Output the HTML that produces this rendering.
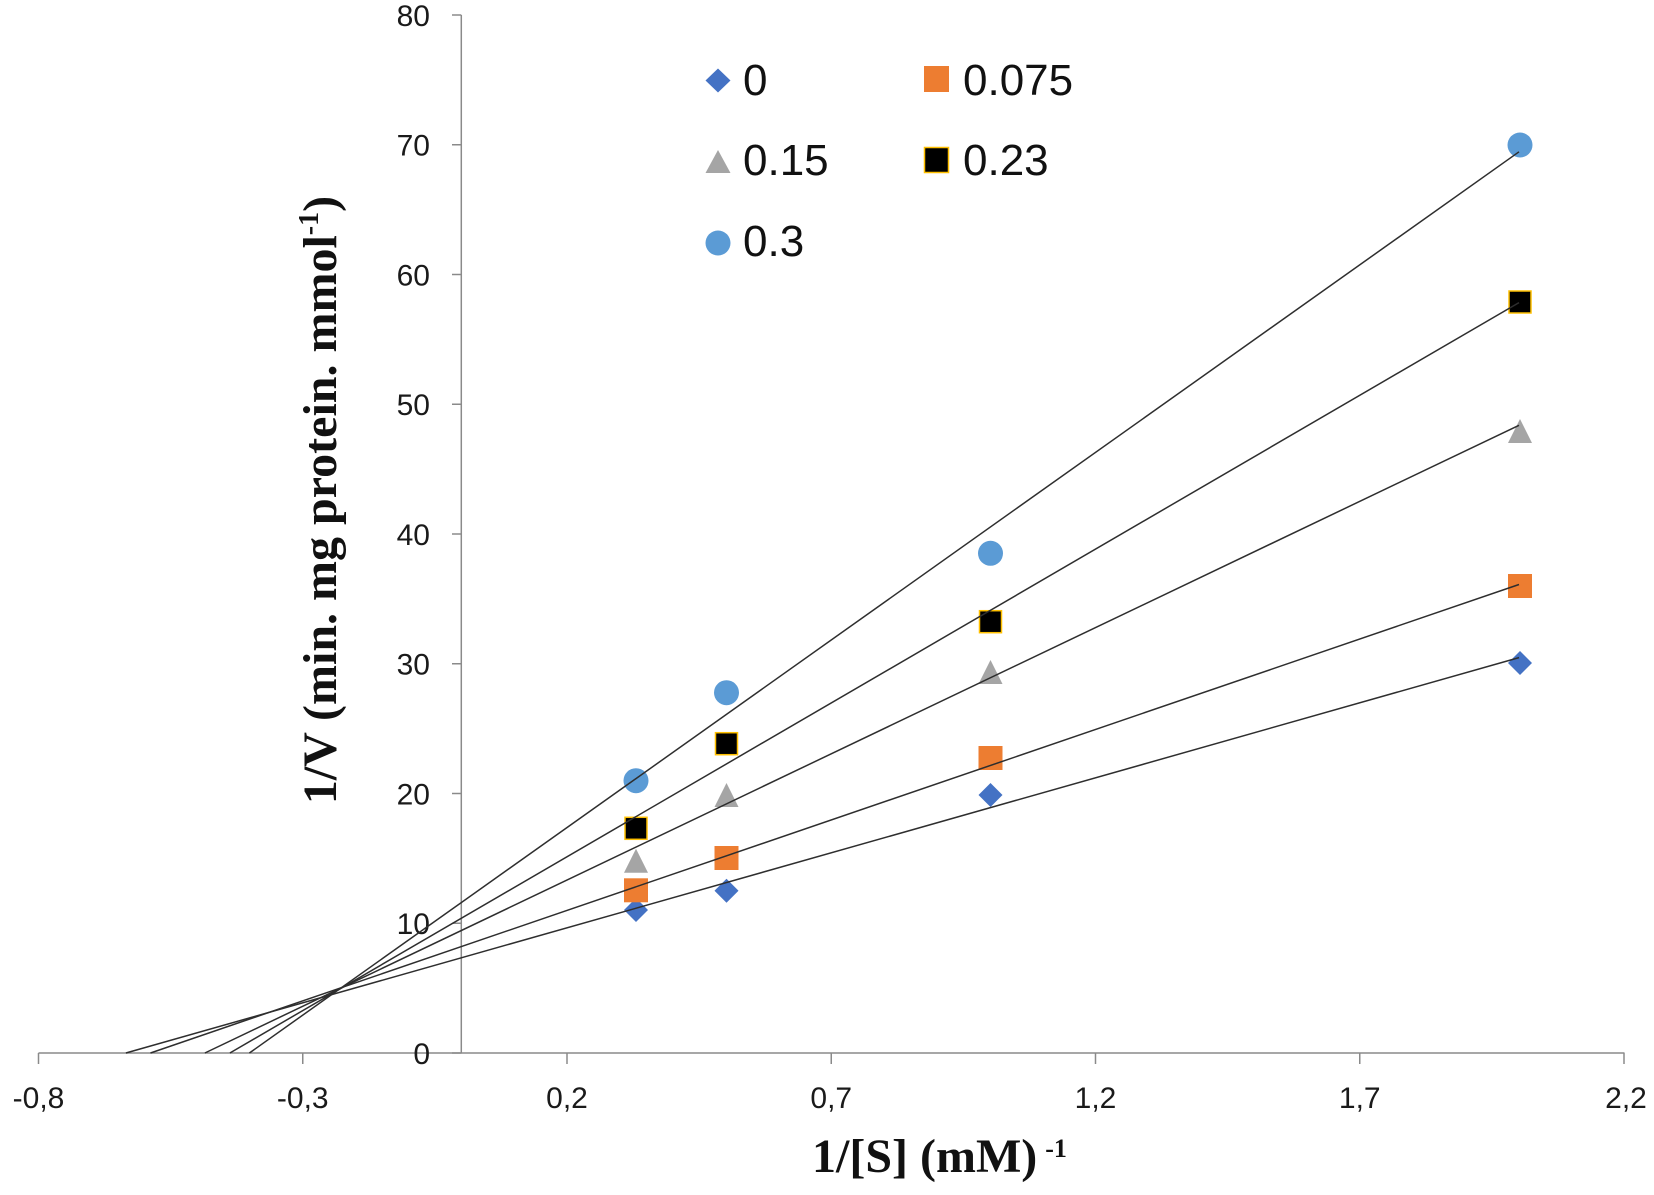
<!DOCTYPE html>
<html>
<head>
<meta charset="utf-8">
<style>
  html, body { margin: 0; padding: 0; background: #ffffff; }
  svg { display: block; }
  .tick { font-family: "Liberation Sans", "DejaVu Sans", sans-serif; font-size: 30px; fill: #1a1a1a; }
  .leg { font-family: "Liberation Sans", "DejaVu Sans", sans-serif; font-size: 44px; fill: #111; }
  .title { font-family: "Liberation Serif", "DejaVu Serif", serif; font-size: 48px; font-weight: bold; fill: #111; }
</style>
</head>
<body>
<svg width="1654" height="1195" viewBox="0 0 1654 1195" xmlns="http://www.w3.org/2000/svg">
  <rect x="0" y="0" width="1654" height="1195" fill="#ffffff"/>

  <!-- Axes -->
  <g stroke="#8a8a8a" stroke-width="1.5" fill="none">
    <line x1="461.3" y1="15" x2="461.3" y2="1053"/>
    <line x1="38.5" y1="1053" x2="1624.5" y2="1053"/>
    <!-- y ticks -->
    <line x1="452" y1="1053" x2="461.3" y2="1053"/>
    <line x1="452" y1="923.25" x2="461.3" y2="923.25"/>
    <line x1="452" y1="793.5" x2="461.3" y2="793.5"/>
    <line x1="452" y1="663.75" x2="461.3" y2="663.75"/>
    <line x1="452" y1="534" x2="461.3" y2="534"/>
    <line x1="452" y1="404.25" x2="461.3" y2="404.25"/>
    <line x1="452" y1="274.5" x2="461.3" y2="274.5"/>
    <line x1="452" y1="144.75" x2="461.3" y2="144.75"/>
    <line x1="452" y1="15" x2="461.3" y2="15"/>
    <!-- x ticks -->
    <line x1="38.5" y1="1053" x2="38.5" y2="1064"/>
    <line x1="302.75" y1="1053" x2="302.75" y2="1064"/>
    <line x1="567" y1="1053" x2="567" y2="1064"/>
    <line x1="831.25" y1="1053" x2="831.25" y2="1064"/>
    <line x1="1095.5" y1="1053" x2="1095.5" y2="1064"/>
    <line x1="1359.75" y1="1053" x2="1359.75" y2="1064"/>
    <line x1="1624" y1="1053" x2="1624" y2="1064"/>
  </g>

  <!-- Y tick labels -->
  <g class="tick" text-anchor="end">
    <text x="430" y="1063.8">0</text>
    <text x="430" y="934">10</text>
    <text x="430" y="804.3">20</text>
    <text x="430" y="674.5">30</text>
    <text x="430" y="544.8">40</text>
    <text x="430" y="415">50</text>
    <text x="430" y="285.3">60</text>
    <text x="430" y="155.5">70</text>
    <text x="430" y="25.8">80</text>
  </g>

  <!-- X tick labels -->
  <g class="tick" text-anchor="middle">
    <text x="38.5" y="1108">-0,8</text>
    <text x="302.75" y="1108">-0,3</text>
    <text x="567" y="1108">0,2</text>
    <text x="831.25" y="1108">0,7</text>
    <text x="1095.5" y="1108">1,2</text>
    <text x="1359.75" y="1108">1,7</text>
    <text x="1626" y="1108">2,2</text>
  </g>

  <!-- Markers: series 0 (diamond) -->
  <g fill="#4472C4">
    <polygon points="636,898 648,910 636,922 624,910"/>
    <polygon points="726.5,878.7 738.5,890.7 726.5,902.7 714.5,890.7"/>
    <polygon points="990.5,783 1002.5,795 990.5,807 978.5,795"/>
    <polygon points="1520,651 1532,663 1520,675 1508,663"/>
  </g>
  <!-- series 0.075 (orange square) -->
  <g fill="#ED7D31">
    <rect x="624" y="878.3" width="24" height="24"/>
    <rect x="714.5" y="846" width="24" height="24"/>
    <rect x="978.5" y="746" width="24" height="24"/>
    <rect x="1508" y="574" width="24" height="24"/>
  </g>
  <!-- series 0.15 (gray triangle) -->
  <g fill="#A5A5A5">
    <polygon points="636,848.7 648,872.7 624,872.7"/>
    <polygon points="726.5,783 738.5,807 714.5,807"/>
    <polygon points="990.5,660 1002.5,684 978.5,684"/>
    <polygon points="1520,419 1532,443 1508,443"/>
  </g>
  <!-- series 0.23 (black square, gold border) -->
  <g fill="#000000" stroke="#FFC000" stroke-width="1.5">
    <rect x="625" y="817.3" width="22" height="22"/>
    <rect x="715.5" y="732.7" width="22" height="22"/>
    <rect x="979.5" y="610.7" width="22" height="22"/>
    <rect x="1509" y="291" width="22" height="22"/>
  </g>
  <!-- series 0.3 (light blue circle) -->
  <g fill="#5B9BD5">
    <circle cx="636" cy="780.7" r="12.5"/>
    <circle cx="726.5" cy="692.7" r="12.5"/>
    <circle cx="990.5" cy="553.3" r="12.5"/>
    <circle cx="1520" cy="145" r="12.5"/>
  </g>

  <!-- Trendlines -->
  <g stroke="#2e2e2e" stroke-width="1.5" fill="none">
    <line x1="125.9" y1="1053" x2="1519" y2="657.6"/>
    <line x1="150.5" y1="1053" x2="1519" y2="584.5"/>
    <line x1="204.9" y1="1053" x2="1519" y2="425.3"/>
    <line x1="229.9" y1="1053" x2="1519" y2="302.6"/>
    <line x1="249.4" y1="1053" x2="1519" y2="151.8"/>
  </g>

  <!-- Legend -->
  <polygon points="718,68.5 730.5,80.5 718,92.5 705.5,80.5" fill="#4472C4"/>
  <text class="leg" x="743" y="95">0</text>
  <rect x="924" y="66" width="25" height="26" fill="#ED7D31"/>
  <text class="leg" x="963" y="95">0.075</text>

  <polygon points="718,150 730.5,173 705.5,173" fill="#A5A5A5"/>
  <text class="leg" x="743" y="175">0.15</text>
  <rect x="924.5" y="147.5" width="24" height="25" fill="#000000" stroke="#FFC000" stroke-width="1.5"/>
  <text class="leg" x="963" y="175">0.23</text>

  <circle cx="718" cy="243" r="12.5" fill="#5B9BD5"/>
  <text class="leg" x="743" y="256">0.3</text>

  <!-- Axis titles -->
  <text class="title" x="812" y="1172">1/[S] (mM)<tspan font-size="26" dx="8" dy="-15">-1</tspan></text>

  <text class="title" transform="translate(336,500) rotate(-90)" text-anchor="middle">1/V (min. mg protein. mmol<tspan font-size="28" dy="-18">-1</tspan><tspan dy="18">)</tspan></text>
</svg>
</body>
</html>
